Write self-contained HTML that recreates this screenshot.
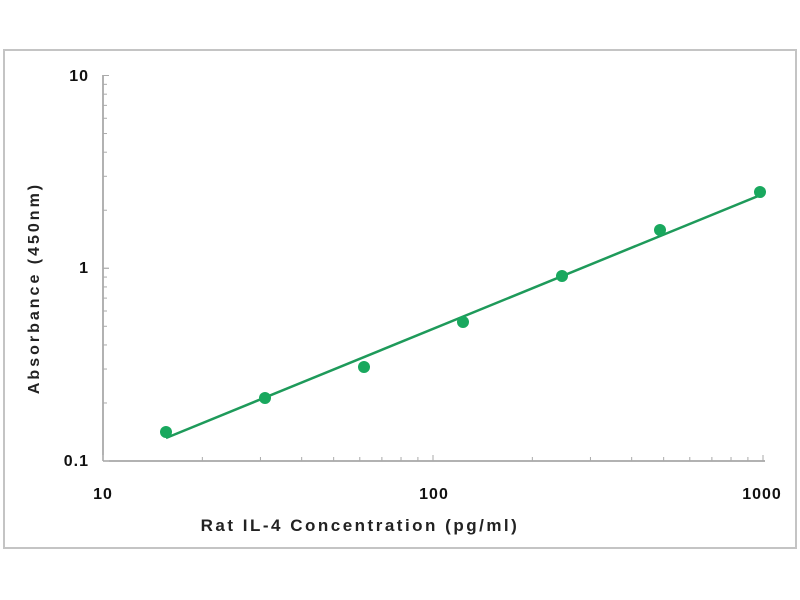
<!DOCTYPE html>
<html><head><style>body{margin:0;background:#fff}svg{display:block}</style></head><body>
<svg width="800" height="600" xmlns="http://www.w3.org/2000/svg" font-family="Liberation Sans, sans-serif" font-weight="bold">
<rect x="4" y="50" width="792" height="498" fill="#fff" stroke="#c4c4c4" stroke-width="2"/>
<g stroke="#999" stroke-width="1.5" fill="none">
<line x1="103" y1="75" x2="103" y2="461"/>
<line x1="103" y1="461" x2="765" y2="461"/>
</g>
<g id="ticks" stroke="#aaa" stroke-width="1"></g>
<g font-size="16" fill="#111" text-anchor="end" letter-spacing="1">
<text x="89" y="81">10</text><text x="89" y="273">1</text><text x="89" y="466">0.1</text>
</g>
<g font-size="16" fill="#111" text-anchor="middle" letter-spacing="1">
<text x="103" y="499">10</text><text x="434" y="499">100</text><text x="762" y="499">1000</text>
</g>
<text x="360" y="531" font-size="17" fill="#222" text-anchor="middle" letter-spacing="2.5">Rat IL-4 Concentration (pg/ml)</text>
<text transform="translate(39,288) rotate(-90)" font-size="16" fill="#222" text-anchor="middle" letter-spacing="3">Absorbance (450nm)</text>
<line x1="166" y1="438" x2="763" y2="194" stroke="#1e9a5a" stroke-width="2.5"/>
<g fill="#19a85e">
<circle cx="166" cy="432" r="6"/><circle cx="265" cy="398" r="6"/><circle cx="364" cy="367" r="6"/>
<circle cx="463" cy="322" r="6"/><circle cx="562" cy="276" r="6"/><circle cx="660" cy="230" r="6"/><circle cx="760" cy="192" r="6"/>
</g>
</svg>
<script>
var g=document.getElementById('ticks'),s='';
for(var d=0;d<2;d++)for(var k=1;k<=10;k++){var y=461-192.75*(d+Math.log10(k));var l=(k==1||k==10)?6:4;s+='<line x1="103" x2="'+(103+l)+'" y1="'+y+'" y2="'+y+'"/>';
var x=103+330*(d+Math.log10(k));s+='<line y1="461" y2="'+(461-l)+'" x1="'+x+'" x2="'+x+'"/>';}
g.innerHTML=s;
</script>
</body></html>
